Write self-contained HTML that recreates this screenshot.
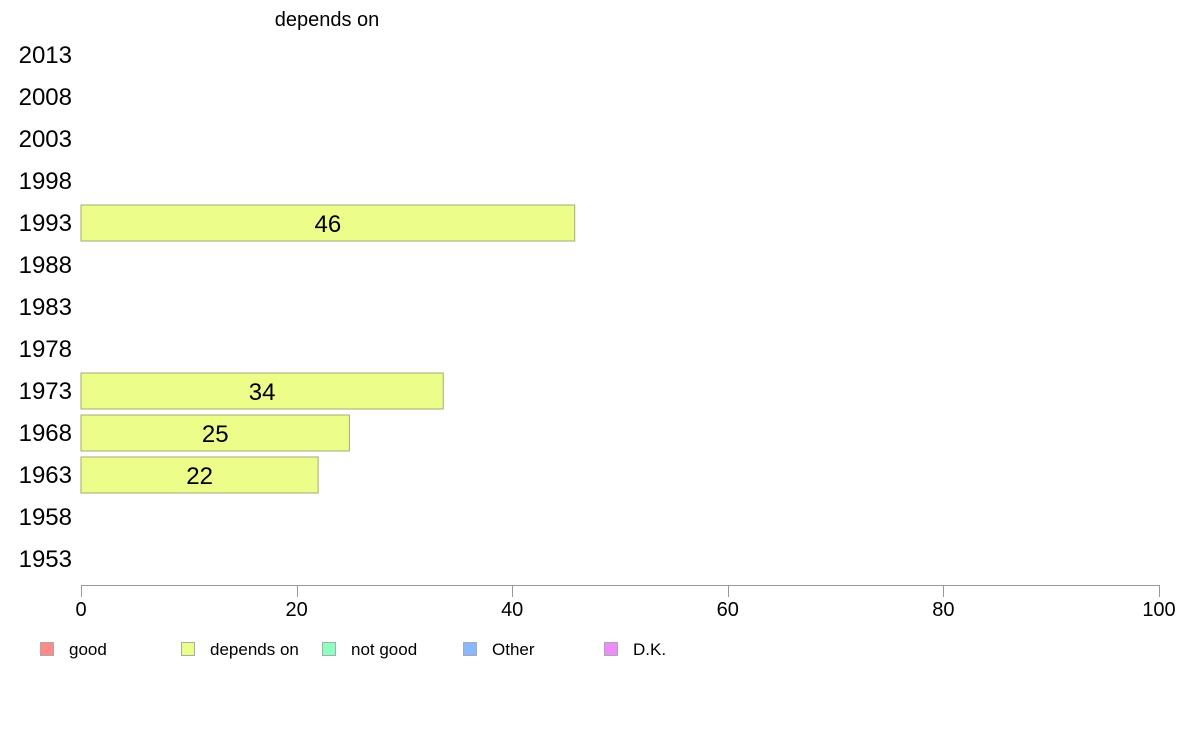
<!DOCTYPE html>
<html><head><meta charset="utf-8"><style>
body{margin:0;background:#fff;font-family:"Liberation Sans",Arial,sans-serif;}
svg text{font-family:"Liberation Sans",Arial,sans-serif;}
</style></head><body>
<svg id="chart" width="1188" height="736" xmlns="http://www.w3.org/2000/svg">
<text x="327" y="26" font-size="20" text-anchor="middle">depends on</text>
<g id="bars"></g>
<g id="yaxis"></g>
<g id="xaxis"></g>
<g id="legend"></g>
</svg>
<script>
const years = ["2013","2008","2003","1998","1993","1988","1983","1978","1973","1968","1963","1958","1953"];
const values = [null,null,null,null,45.8,null,null,null,33.6,24.9,22.0,null,null];
const xTicks = [0,20,40,60,80,100];
const legendLabels = ["good","depends on","not good","Other","D.K."];
const legendColors = ["#ff8a8a","#ecfd8a","#8affc0","#8ab8ff","#f08aff"];

const NS="http://www.w3.org/2000/svg";
const x0=81,x1=1159;
const xs=v=>x0+(v/100)*(x1-x0);
const ys=i=>55+i*42;
function mk(tag,attrs,parent){const e=document.createElementNS(NS,tag);for(const k in attrs)e.setAttribute(k,attrs[k]);parent.appendChild(e);return e;}
const bars=document.getElementById('bars'),ya=document.getElementById('yaxis'),xa=document.getElementById('xaxis'),lg=document.getElementById('legend');
years.forEach((y,i)=>{
  const t=mk('text',{x:72,y:ys(i)+8,'font-size':24,'text-anchor':'end'},ya);
  t.textContent=y;
  
  
  const v=values[i];
  if(v!=null){
    const r=mk('rect',{x:x0,y:ys(i)-18,width:xs(v)-x0,height:36,fill:'#ecfd8a',stroke:'#a3ab72','stroke-width':1},bars);
    
    
    const l=mk('text',{x:(x0+xs(v))/2,y:ys(i)+9,'font-size':24,'text-anchor':'middle'},bars);
    l.textContent=Math.round(v);
    
    
  }
});
const ax=mk('line',{x1:x0,x2:x1,y1:585.5,y2:585.5,stroke:'#999','stroke-width':1},xa);


xTicks.forEach(v=>{
  const tk=mk('line',{x1:Math.round(xs(v))+0.5,x2:Math.round(xs(v))+0.5,y1:585,y2:597,stroke:'#999','stroke-width':1},xa);
  
  
  const t=mk('text',{x:xs(v),y:616,'font-size':20,'text-anchor':'middle'},xa);
  t.textContent=v;
  
  
});
legendLabels.forEach((lab,i)=>{
  const bx=40+i*141;
  const r=mk('rect',{x:bx+0.5,y:642.5,width:13,height:13,fill:legendColors[i],stroke:'#aaa','stroke-width':1},lg);
  
  
  const t=mk('text',{x:bx+29,y:655,'font-size':17},lg);
  t.textContent=lab;
  
  
});
</script>
</body></html>
